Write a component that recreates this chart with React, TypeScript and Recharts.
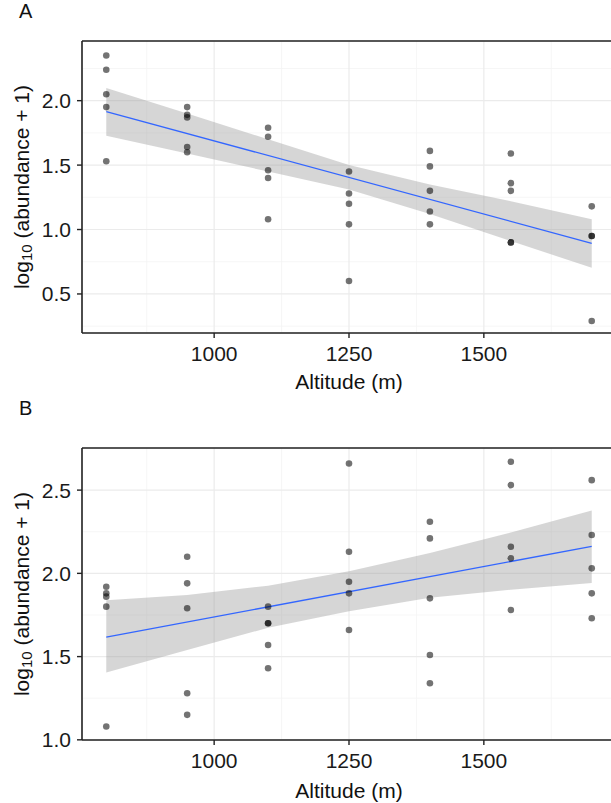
import React from "react";
import {
  ComposedChart,
  Scatter,
  Line,
  Area,
  XAxis,
  YAxis,
  CartesianGrid,
  ReferenceLine,
} from "recharts";

// sampling altitudes (m)
const altitudes = [800, 950, 1100, 1250, 1400, 1550, 1700];

// panel A: log10(abundance + 1) per altitude
const valuesA = [
  [2.35, 2.24, 2.05, 1.95, 1.53],
  [1.95, 1.89, 1.87, 1.64, 1.6],
  [1.79, 1.72, 1.46, 1.4, 1.08],
  [1.45, 1.28, 1.2, 1.04, 0.6],
  [1.61, 1.49, 1.3, 1.14, 1.04],
  [1.59, 1.36, 1.3, 0.9, 0.9],
  [1.18, 0.95, 0.95, 0.29],
];
const fitA = [1.915, 0.893]; // at 800 and 1700
const upperA = [2.098, 1.9, 1.7, 1.5, 1.35, 1.22, 1.08];
const lowerA = [1.727, 1.59, 1.45, 1.31, 1.12, 0.91, 0.704];

// panel B
const valuesB = [
  [1.92, 1.88, 1.86, 1.8, 1.08],
  [2.1, 1.94, 1.79, 1.28, 1.15],
  [1.8, 1.7, 1.7, 1.57, 1.43],
  [2.66, 2.13, 1.95, 1.88, 1.66],
  [2.31, 2.21, 1.85, 1.51, 1.34],
  [2.67, 2.53, 2.16, 2.09, 1.78],
  [2.56, 2.23, 2.03, 1.88, 1.73],
];
const fitB = [1.617, 2.162];
const upperB = [1.838, 1.87, 1.926, 2.012, 2.122, 2.245, 2.377];
const lowerB = [1.404, 1.54, 1.673, 1.772, 1.853, 1.902, 1.942];

const xTicks = [1000, 1250, 1500];
const xMinor = [875, 1125, 1375, 1625];
const yTicksA = [0.5, 1.0, 1.5, 2.0];
const yMinorA = [0.25, 0.75, 1.25, 1.75, 2.25];
const yTicksB = [1.0, 1.5, 2.0, 2.5];
const yMinorB = [1.25, 1.75, 2.25];

const FONT = "'Liberation Sans', Arial, sans-serif";
const tickStyle = { fontSize: 21, fill: "#1a1a1a", fontFamily: FONT };

function YTitle({ viewBox }: any) {
  const cx = 21;
  const cy = viewBox.y + viewBox.height / 2;
  return (
    <text
      x={cx}
      y={cy}
      transform={`rotate(-90, ${cx}, ${cy})`}
      textAnchor="middle"
      dominantBaseline="central"
      fontSize={21}
      fontFamily={FONT}
      fill="#111"
    >
      log
      <tspan fontSize={15} dy={5}>10</tspan>
      <tspan dy={-5}> (abundance + 1)</tspan>
    </text>
  );
}

function XTitle({ viewBox, dy }: any) {
  return (
    <text
      x={viewBox.x + viewBox.width / 2}
      y={viewBox.y + dy}
      textAnchor="middle"
      dominantBaseline="central"
      fontSize={21}
      fontFamily={FONT}
      fill="#111"
    >
      Altitude (m)
    </text>
  );
}

const Dot = (p: any) => (
  <circle cx={p.cx} cy={p.cy} r={3.3} fill="#000" fillOpacity={0.55} />
);

function Panel({
  values,
  fit,
  upper,
  lower,
  yDomain,
  yTicks,
  yMinor,
  height,
  top,
  titleDy,
}: any) {
  const points = altitudes.flatMap((alt, i) =>
    values[i].map((v: number) => ({ alt, v }))
  );
  const band = altitudes.map((alt, i) => ({ alt, band: [lower[i], upper[i]] }));
  const fitLine = [
    { alt: altitudes[0], fit: fit[0] },
    { alt: altitudes[altitudes.length - 1], fit: fit[1] },
  ];
  return (
    <ComposedChart
      width={616}
      height={height}
      data={band}
      margin={{ top, right: 0, bottom: 0, left: 0 }}
    >
      <CartesianGrid
        stroke="#f4f4f4"
        strokeWidth={0.8}
        verticalValues={xMinor}
        horizontalValues={yMinor}
      />
      <CartesianGrid stroke="#ebebeb" strokeWidth={1.2} />
      <ReferenceLine y={yDomain[1]} stroke="#222" strokeWidth={1.6} />
      <XAxis
        type="number"
        dataKey="alt"
        domain={[755, 1745]}
        ticks={xTicks}
        allowDataOverflow
        height={height - top - 292}
        tick={tickStyle}
        tickSize={5}
        tickMargin={8}
        axisLine={{ stroke: "#222", strokeWidth: 1.6 }}
        tickLine={{ stroke: "#222", strokeWidth: 1.4 }}
        label={<XTitle dy={titleDy} />}
      />
      <YAxis
        type="number"
        domain={yDomain}
        ticks={yTicks}
        allowDataOverflow
        width={82}
        tick={tickStyle}
        tickSize={5}
        tickMargin={6}
        tickFormatter={(v: number) => v.toFixed(1)}
        axisLine={{ stroke: "#222", strokeWidth: 1.6 }}
        tickLine={{ stroke: "#222", strokeWidth: 1.4 }}
        label={<YTitle />}
      />
      <Area
        type="linear"
        dataKey="band"
        stroke="none"
        fill="#999999"
        fillOpacity={0.4}
        isAnimationActive={false}
      />
      <Line
        data={fitLine}
        dataKey="fit"
        stroke="#3366FF"
        strokeWidth={1.3}
        dot={false}
        isAnimationActive={false}
      />
      <Scatter data={points} dataKey="v" shape={Dot} isAnimationActive={false} />
    </ComposedChart>
  );
}

const letterStyle: React.CSSProperties = {
  position: "absolute",
  left: 19,
  fontSize: 20,
  fontFamily: FONT,
  color: "#111",
  lineHeight: "20px",
};

export default function App() {
  return (
    <div
      style={{
        position: "absolute",
        left: 0,
        top: 0,
        width: 611,
        height: 803,
        overflow: "hidden",
        background: "#fff",
      }}
    >
      <div style={{ ...letterStyle, top: 1 }}>A</div>
      <div style={{ position: "absolute", left: 0, top: 0 }}>
        <Panel
          values={valuesA}
          fit={fitA}
          upper={upperA}
          lower={lowerA}
          yDomain={[0.197, 2.463]}
          yTicks={yTicksA}
          yMinor={yMinorA}
          height={400}
          top={41}
          titleDy={48}
        />
      </div>
      <div style={{ ...letterStyle, top: 398 }}>B</div>
      <div style={{ position: "absolute", left: 0, top: 400 }}>
        <Panel
          values={valuesB}
          fit={fitB}
          upper={upperB}
          lower={lowerB}
          yDomain={[0.999, 2.753]}
          yTicks={yTicksB}
          yMinor={yMinorB}
          height={403}
          top={48}
          titleDy={50}
        />
      </div>
    </div>
  );
}
